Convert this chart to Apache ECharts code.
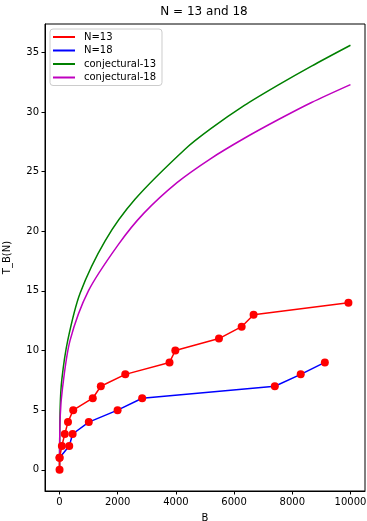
<!DOCTYPE html>
<html>
<head>
<meta charset="utf-8">
<script src="https://cdn.jsdelivr.net/npm/echarts@6/dist/echarts.min.js"></script>
<style>
  html, body { margin: 0; padding: 0; background: #fff; }
  #chart { width: 367px; height: 521px; }
</style>
</head>
<body>
<div id="chart"></div>
<script>
var n13B = [0, 0, 80, 180, 290, 470, 1142, 1419, 2260, 3780, 3980, 5480, 6260, 6670, 9930];
var n13T = [0, 1, 2, 3, 4, 5, 6, 7, 8, 9, 10, 11, 12, 13, 14];

var n18B = [0, 333, 450, 1005, 1995, 2840, 7400, 8290, 9120];
var n18T = [1, 2, 3, 4, 5, 6, 7, 8, 9];

// conjectural curves, sampled along the drawn line
var conj13B = [0, 21, 80, 282, 706, 1567, 2601, 4323, 5200, 6353, 7509, 8661, 10000];
var conj13T = [0, 5.2, 7.6, 10.85, 14.8, 19.2, 22.7, 26.9, 28.6, 30.55, 32.25, 33.85, 35.6];
var conj18B = [0, 21, 104, 362, 992, 2026, 2893, 4048, 5200, 6353, 7509, 8661, 10000];
var conj18T = [0, 4.4, 6.9, 10.85, 15.0, 18.9, 21.5, 24.1, 26.1, 27.8, 29.35, 30.8, 32.3];

var xTicks = [0, 2000, 4000, 6000, 8000, 10000];
var yTicks = [0, 5, 10, 15, 20, 25, 30, 35];

function pairs(xs, ys) {
    return xs.map(function (x, i) { return [x, ys[i]]; });
}

var font = 'DejaVu Sans';
var myChart = echarts.init(document.getElementById('chart'));

var option = {
    animation: false,
    backgroundColor: '#fff',
    title: {
        text: 'N = 13 and 18',
        left: 204,
        textAlign: 'center',
        top: 6,
        padding: 0,
        textStyle: { fontFamily: font, fontSize: 12, fontWeight: 'normal', color: '#000' }
    },
    grid: {
        left: 45, right: 2, top: 24, bottom: 30,
        outerBoundsMode: 'none',
        containLabel: false,
        show: true, borderColor: '#000', borderWidth: 1, backgroundColor: 'transparent'
    },
    legend: {
        orient: 'vertical',
        left: 50,
        top: 29,
        icon: 'rect',
        itemWidth: 22,
        itemHeight: 2,
        itemGap: 3.5,
        padding: [3, 6, 3, 3],
        backgroundColor: 'rgba(255,255,255,0.8)',
        borderColor: '#cccccc',
        borderWidth: 1,
        borderRadius: 3,
        textStyle: { fontFamily: font, fontSize: 10, color: '#000', padding: [0, 0, 0, 4] },
        data: [
            { name: 'N=13', itemStyle: { color: '#ff0000' } },
            { name: 'N=18', itemStyle: { color: '#0000ff' } },
            { name: 'conjectural-13', itemStyle: { color: '#008000' } },
            { name: 'conjectural-18', itemStyle: { color: '#bf00bf' } }
        ]
    },
    xAxis: {
        type: 'value',
        min: -500,
        max: 10500,
        name: 'B',
        nameLocation: 'middle',
        nameGap: 22,
        nameTextStyle: { fontFamily: font, fontSize: 10, color: '#000' },
        splitLine: { show: false },
        axisLine: { onZero: false, lineStyle: { color: '#000' } },
        axisTick: { customValues: xTicks, length: 3.5, lineStyle: { color: '#000' } },
        axisLabel: {
            customValues: xTicks, margin: 6, fontFamily: font, fontSize: 10, color: '#000',
            formatter: function (v) { return String(v); }
        }
    },
    yAxis: {
        type: 'value',
        min: -1.78,
        max: 37.38,
        name: 'T_B(N)',
        nameLocation: 'middle',
        nameRotate: 90,
        nameGap: 33,
        nameTextStyle: { fontFamily: font, fontSize: 10, color: '#000' },
        splitLine: { show: false },
        axisLine: { show: true, onZero: false, lineStyle: { color: '#000' } },
        axisTick: { show: true, customValues: yTicks, length: 3.5, lineStyle: { color: '#000' } },
        axisLabel: {
            customValues: yTicks, margin: 6, fontFamily: font, fontSize: 10, color: '#000',
            formatter: function (v) { return String(v); }
        }
    },
    series: [
        {
            name: 'N=13',
            type: 'line',
            data: pairs(n13B, n13T),
            symbol: 'circle',
            symbolSize: 8,
            lineStyle: { color: '#ff0000', width: 1.5 },
            itemStyle: { color: '#ff0000' },
            z: 3
        },
        {
            name: 'N=18',
            type: 'line',
            data: pairs(n18B, n18T),
            symbol: 'circle',
            symbolSize: 8,
            lineStyle: { color: '#0000ff', width: 1.5 },
            itemStyle: { color: '#ff0000' },
            z: 3
        },
        {
            name: 'conjectural-13',
            type: 'line',
            data: pairs(conj13B, conj13T),
            showSymbol: false,
            smooth: 0.3,
            lineStyle: { color: '#008000', width: 1.5 },
            itemStyle: { color: '#008000' },
            z: 2
        },
        {
            name: 'conjectural-18',
            type: 'line',
            data: pairs(conj18B, conj18T),
            showSymbol: false,
            smooth: 0.3,
            lineStyle: { color: '#bf00bf', width: 1.5 },
            itemStyle: { color: '#bf00bf' },
            z: 2
        }
    ]
};

myChart.setOption(option);
</script>
</body>
</html>
